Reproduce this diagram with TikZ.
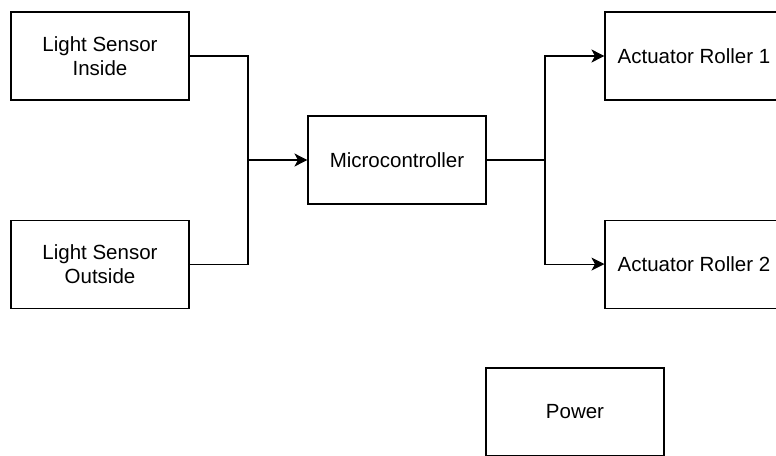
\documentclass[tikz,border=0pt]{standalone}
\usepackage{fontspec}
\setmainfont{Liberation Sans}
\usetikzlibrary{arrows.meta,positioning}

\begin{document}
\begin{tikzpicture}[
    x=1pt, y=1pt,
    node distance=119pt and 119pt,
    block/.style={draw, line width=1.1pt, align=center, minimum width=178pt,
                minimum height=88pt, inner sep=0pt,
                font=\fontsize{20.5}{24}\selectfont},
    wire/.style={line width=1.1pt},
    feed/.style={wire, -{Stealth[length=13pt,width=13pt,inset=3.5pt]}}
]
\clip (0,0) rectangle (776,-455);
\useasboundingbox (0,0) rectangle (776,-455);

\node[block] (lsi) at (100,-56) {Light Sensor\\Inside};
\node[block, below=of lsi] (lso) {Light Sensor\\Outside};
\node[block] (micro) at (397,-160) {Microcontroller};
\node[block] (act1) at (694,-56) {Actuator Roller 1};
\node[block, below=of act1] (act2) {Actuator Roller 2};
\node[block] (power) at (575,-412) {Power};

% sensors merge into the controller
\coordinate (inj) at (248,-160);
\draw[wire] (lsi.east) -| (inj);
\draw[wire] (lso.east) -| (inj);
\draw[feed] (inj) -- (micro.west);

% controller drives both rollers
\coordinate (outj) at (545,-160);
\draw[wire] (micro.east) -- (outj);
\draw[feed] (outj) |- (act1.west);
\draw[feed] (outj) |- (act2.west);

\end{tikzpicture}
\end{document}
